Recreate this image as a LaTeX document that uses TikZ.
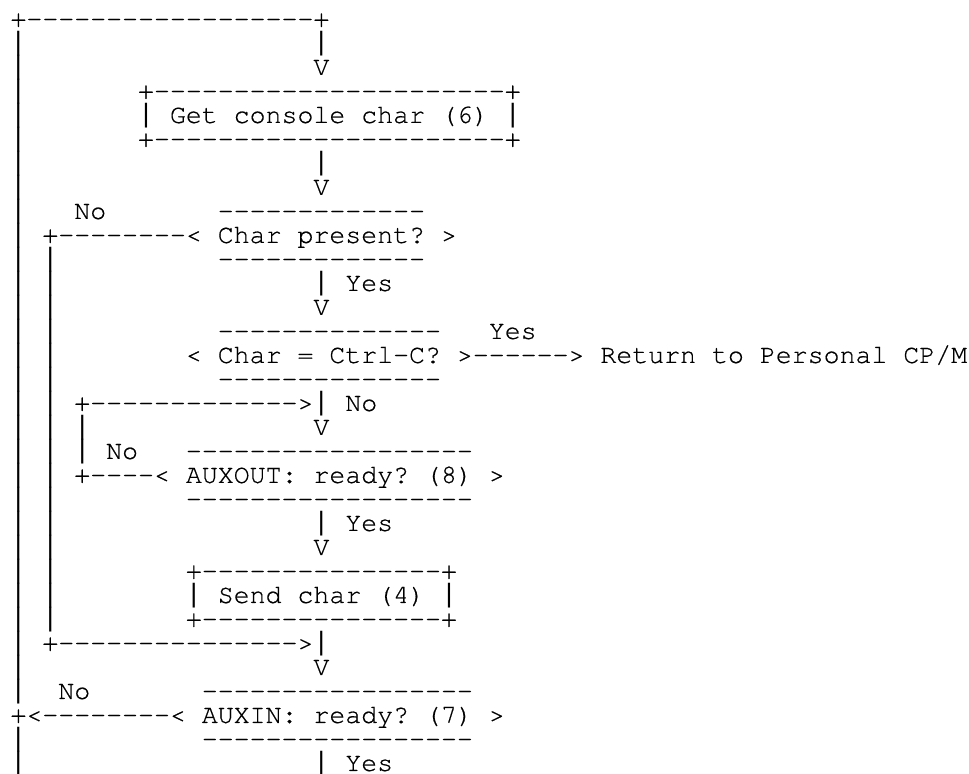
\documentclass[tikz,border=0pt]{standalone}
\usepackage{fontspec}
\setmonofont{TeX Gyre Cursor}[FakeBold=0.5]
\newfontfamily\barfont{Liberation Mono}

% the bar glyph of Liberation Mono fills the whole line, so rows join up
\newcommand\vbar{{\barfont|}}
\newcommand\chartfont{\ttfamily\fontsize{19.93pt}{18pt}\selectfont
  \frenchspacing\obeyspaces}

% one line of the character chart, set on a fixed grid
\tikzset{chartline/.style={anchor=base west, inner sep=0pt, outer sep=0pt,
    font=\chartfont}}

\begin{document}
\begin{tikzpicture}[x=11.963pt, y=-18pt]
\fill[white] (-0.658,-0.121) rectangle (60.09,32.087);
\useasboundingbox (-0.658,-0.121) rectangle (60.09,32.087);
\clip (-0.658,-0.121) rectangle (60.09,32.087);
% get a character from the console
\node[chartline] (r1) at (0,1) {+------------------+};
\node[chartline] (r2) at (0,2) {\vbar                  \vbar};
\node[chartline] (r3) at (0,3) {\vbar                  V};
\node[chartline] (r4) at (0,4) {\vbar       +----------------------+};
\node[chartline] (r5) at (0,5) {\vbar       \vbar Get console char (6) \vbar};
\node[chartline] (r6) at (0,6) {\vbar       +----------------------+};
\node[chartline] (r7) at (0,7) {\vbar                  \vbar};
\node[chartline] (r8) at (0,8) {\vbar                  V};
% char present / ctrl-c tests
\node[chartline] (r9) at (0,9) {\vbar   No       -------------};
\node[chartline] (r10) at (0,10) {\vbar +--------< Char present? >};
\node[chartline] (r11) at (0,11) {\vbar \vbar          -------------};
\node[chartline] (r12) at (0,12) {\vbar \vbar                \vbar Yes};
\node[chartline] (r13) at (0,13) {\vbar \vbar                V};
\node[chartline] (r14) at (0,14) {\vbar \vbar          --------------   Yes};
\node[chartline] (r15) at (0,15) {\vbar \vbar        < Char = Ctrl-C? >------> Return to Personal CP/M};
\node[chartline] (r16) at (0,16) {\vbar \vbar          --------------};
% wait for AUXOUT, then send
\node[chartline] (r17) at (0,17) {\vbar \vbar +------------->\vbar No};
\node[chartline] (r18) at (0,18) {\vbar \vbar \vbar              V};
\node[chartline] (r19) at (0,19) {\vbar \vbar \vbar No   ------------------};
\node[chartline] (r20) at (0,20) {\vbar \vbar +----< AUXOUT: ready? (8) >};
\node[chartline] (r21) at (0,21) {\vbar \vbar        ------------------};
\node[chartline] (r22) at (0,22) {\vbar \vbar                \vbar Yes};
\node[chartline] (r23) at (0,23) {\vbar \vbar                V};
\node[chartline] (r24) at (0,24) {\vbar \vbar        +---------------+};
\node[chartline] (r25) at (0,25) {\vbar \vbar        \vbar Send char (4) \vbar};
\node[chartline] (r26) at (0,26) {\vbar \vbar        +---------------+};
% AUXIN test
\node[chartline] (r27) at (0,27) {\vbar +--------------->\vbar};
\node[chartline] (r28) at (0,28) {\vbar                  V};
\node[chartline] (r29) at (0,29) {\vbar  No       -----------------};
\node[chartline] (r30) at (0,30) {+<--------< AUXIN: ready? (7) >};
\node[chartline] (r31) at (0,31) {\vbar           -----------------};
\node[chartline] (r32) at (0,32) {\vbar                  \vbar Yes};
\end{tikzpicture}
\end{document}
